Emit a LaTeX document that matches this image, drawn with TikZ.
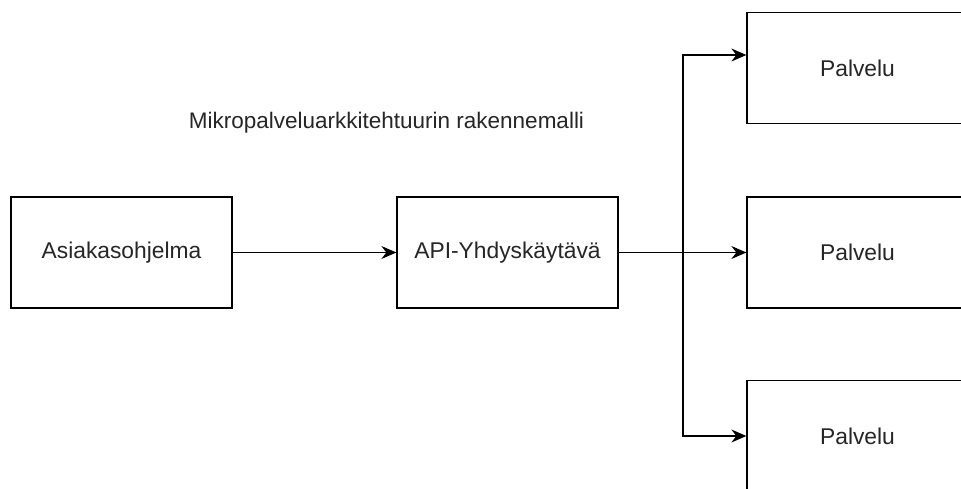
\documentclass[tikz,border=0pt]{standalone}
\usepackage{fontspec}
\setmainfont{Liberation Sans}
\usetikzlibrary{arrows.meta}
\begin{document}
\begin{tikzpicture}[x=1pt,y=-1pt,
  box/.style={draw=black,line width=1.3pt,minimum width=221pt,minimum height=111pt,inner sep=0pt,font=\fontsize{22.8}{26}\selectfont,text=black!85},
  conn/.style={draw=black,line width=1.3pt,-{Stealth[length=15pt,width=13pt,inset=5pt]}},
  every node/.style={anchor=center}]
\useasboundingbox (0,0) rectangle (961,489);
\fill[white] (0,0) rectangle (961,489);
\node[box] (client) at (121.5,252.5) {Asiakasohjelma};
\node[box] (api) at (507.5,252.5) {API-Yhdyskäytävä};
\node[box] (s1) at (857.5,68) {Palvelu};
\node[box] (s2) at (857.5,252.5) {Palvelu};
\node[box] (s3) at (857.5,436) {Palvelu};
\node[font=\fontsize{22.5}{26}\selectfont,text=black!85] (title) at (386.5,123) {Mikropalveluarkkitehtuurin rakennemalli};
\coordinate (j) at (683,252.5);
\draw[conn] (client.east) -- (api.west);
\draw[conn] (api.east) -- (s2.west);
\draw[conn] (j) |- ([yshift=13pt]s1.west);
\draw[conn] (j) |- (s3.west);
\end{tikzpicture}
\end{document}
